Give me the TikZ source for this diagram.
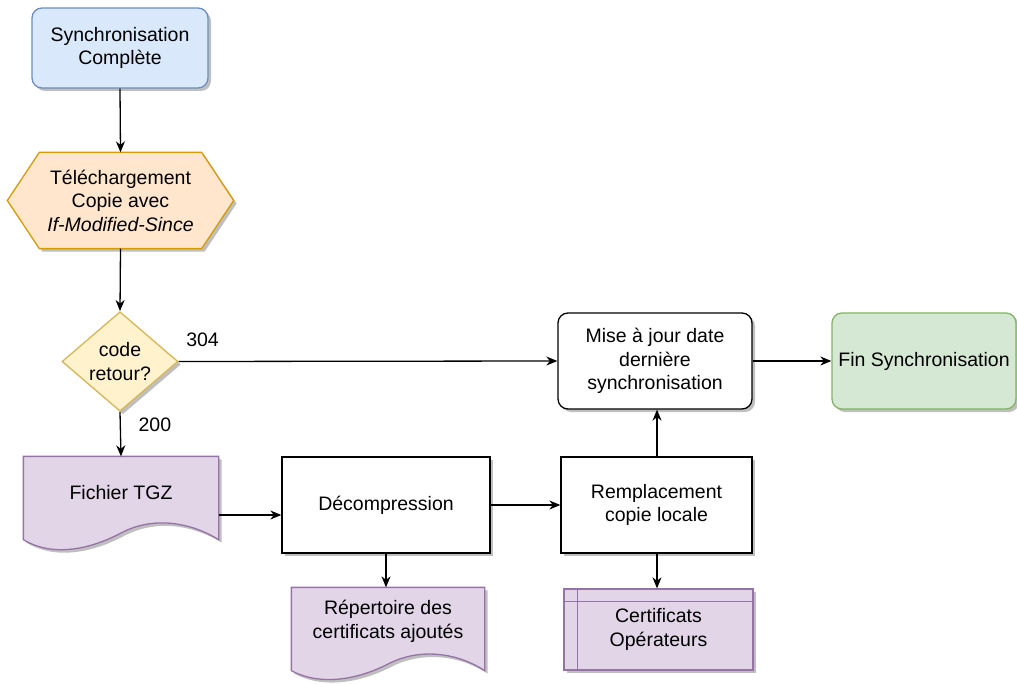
\documentclass[tikz,border=0pt]{standalone}
\usepackage{fontspec}
\setmainfont{Liberation Sans}
\usetikzlibrary{shapes.geometric,shadows,arrows.meta,calc}

\definecolor{blueF}{HTML}{DAE8FC}\definecolor{blueD}{HTML}{6C8EBF}
\definecolor{orangeF}{HTML}{FFE6CC}\definecolor{orangeD}{HTML}{D79B00}
\definecolor{yellowF}{HTML}{FFF2CC}\definecolor{yellowD}{HTML}{D6B656}
\definecolor{purpleF}{HTML}{E1D5E7}\definecolor{purpleD}{HTML}{9673A6}
\definecolor{greenF}{HTML}{D5E8D4}\definecolor{greenD}{HTML}{82B366}

\tikzset{
  shade3/.style={drop shadow={shadow xshift=3pt,shadow yshift=-3pt,fill=black,opacity=0.25}},
  base/.style={align=center,inner sep=2pt,font=\fontsize{19.5}{23.5}\selectfont,line width=1.3pt},
  procbox/.style={base,rectangle,draw=black,fill=white,shade3},
  roundbox/.style={procbox,rounded corners=10pt},
  textonly/.style={base,draw=none,fill=none},
  decision/.style={base,diamond,draw=yellowD,fill=yellowF,shade3,inner sep=0pt},
  arr/.style={line width=1.3pt,-{Stealth[length=11pt,width=9pt,inset=3.5pt]}},
  lbl/.style={font=\fontsize{19.5}{23.5}\selectfont,inner sep=0pt},
  docshape/.style={draw=purpleD,fill=purpleF,line width=1.3pt,shade3},
}

\begin{document}
\begin{tikzpicture}[x=1pt,y=-1pt]
\useasboundingbox (0,0) rectangle (1017,684);

% start of the full synchronisation
\node[roundbox,draw=blueD,fill=blueF,minimum width=176pt,minimum height=80pt] (start) at (120,48)
  {Synchronisation\\Complète};

% download step (hexagon)
\node[textonly,minimum width=225pt,minimum height=95pt] (dl) at (120.5,200.5) {};
\path[draw=orangeD,fill=orangeF,line width=1.3pt,shade3]
  (dl.west) -- ([xshift=32pt]dl.north west) -- ([xshift=-32pt]dl.north east)
  -- (dl.east) -- ([xshift=-32pt]dl.south east) -- ([xshift=32pt]dl.south west) -- cycle;
\node[textonly] at (dl) {Téléchargement\\Copie avec\\\textit{If-Modified-Since}};

% decision on the return code
\node[decision,minimum width=116pt,minimum height=97pt] (dec) at (120,361.5) {code\\retour?};

% downloaded archive (document shape)
\node[textonly,minimum width=194pt,minimum height=72pt] (fichier) at (121,493) {};
\path[docshape]
  (fichier.north west) -- (fichier.north east) -- ([yshift=-10pt]fichier.south east)
  .. controls (190,522) and (153,516) .. (121,533)
  .. controls (89,550) and (52,557) .. ([yshift=-10pt]fichier.south west) -- cycle;
\node[textonly] at (fichier) {Fichier TGZ};

% decompression
\node[procbox,minimum width=208pt,minimum height=96pt] (decomp) at (386,505) {Décompression};

% directory of added certificates (document shape)
\node[textonly,minimum width=192pt,minimum height=67pt] (rep) at (388,621.5) {};
\path[docshape]
  (rep.north west) -- (rep.north east) -- ([yshift=-15pt]rep.south east)
  .. controls (456,652) and (419,648) .. (388,664)
  .. controls (357,680) and (320,686) .. ([yshift=-15pt]rep.south west) -- cycle;
\node[textonly] at (rep) {Répertoire des\\certificats ajoutés};

% replacement of the local copy
\node[procbox,minimum width=191pt,minimum height=96pt] (rempl) at (656.5,505) {Remplacement\\copie locale};

% operator certificates (internal storage)
\node[base,draw=purpleD,fill=purpleF,shade3,minimum width=189pt,minimum height=81pt] (cert) at (658.5,629.5)
  {Certificats\\Opérateurs};
\draw[purpleD,line width=1.3pt] ([xshift=14pt]cert.north west) -- ([xshift=14pt]cert.south west);
\draw[purpleD,line width=1.3pt] ([yshift=-13pt]cert.north west) -- ([yshift=-13pt]cert.north east);

% update of the last synchronisation date
\node[roundbox,minimum width=194pt,minimum height=96pt] (mise) at (655,361)
  {Mise à jour date\\dernière\\synchronisation};

% end
\node[roundbox,draw=greenD,fill=greenF,minimum width=184pt,minimum height=96pt] (fin) at (924,361)
  {Fin Synchronisation};

% connectors
\draw[arr] (start.south) -- (dl.north);
\draw[arr] (dl.south) -- (dec.north);
\draw[arr] (dec.east) -- node[lbl,at start,anchor=base west,xshift=7pt,yshift=14.5pt] {304} (mise.west);
\draw[arr] (dec.south) -- node[lbl,at start,anchor=base west,xshift=18pt,yshift=-19.5pt] {200} (fichier.north);
\draw[arr] ([yshift=-22pt]fichier.east) -- ([yshift=-22pt]fichier.east -| decomp.west);
\draw[arr] (decomp.east) -- (rempl.west);
\draw[arr] (decomp.south) -- (decomp.south |- rep.north);
\draw[arr] ([xshift=0.5pt]rempl.south) -- ([xshift=0.5pt]rempl.south |- cert.north);
\draw[arr] ([xshift=0.5pt]rempl.north) -- ([xshift=0.5pt]rempl.north |- mise.south);
\draw[arr] (mise.east) -- (fin.west);
\end{tikzpicture}
\end{document}
